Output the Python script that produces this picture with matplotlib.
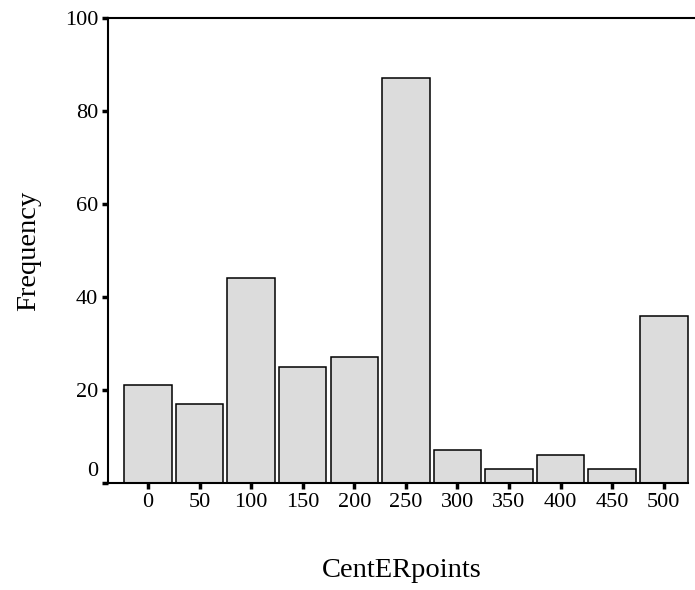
import matplotlib

matplotlib.use("Agg")
import matplotlib.pyplot as plt
from matplotlib.transforms import ScaledTranslation

# CentERpoints histogram (bin labels and counts)
bin_labels = ["0", "50", "100", "150", "200", "250", "300", "350", "400", "450", "500"]
frequencies = [21, 17, 44, 25, 27, 87, 7, 3, 6, 3, 36]
y_ticks = [0, 20, 40, 60, 80, 100]

plt.rcParams["font.family"] = ["Liberation Serif", "DejaVu Serif"]

fig = plt.figure(figsize=(6.95, 5.9), dpi=100, facecolor="white")
ax = fig.add_axes([108 / 695, 1 - 483 / 590, 587 / 695, 465 / 590])

positions = list(range(len(bin_labels)))
ax.bar(positions, frequencies, width=0.92, color="#dcdcdc",
       edgecolor="black", linewidth=1.1)

ax.set_xlim(-0.775, 10.605)
ax.set_ylim(0, 100)
ax.set_xticks(positions)
ax.set_xticklabels(bin_labels)
ax.set_yticks(y_ticks)

ax.spines["right"].set_visible(False)
for side in ("left", "bottom", "top"):
    ax.spines[side].set_linewidth(1.5)
# top rule runs to the edge, bottom axis stops at the last bar
ax.spines["bottom"].set_bounds(-0.775, 10.47)

ax.tick_params(axis="both", direction="out", length=4, width=2.5,
               labelsize=16, pad=3)

# SPSS style: the 0 label sits a bit above its tick
zero_label = ax.get_yticklabels()[0]
zero_label.set_transform(zero_label.get_transform()
                         + ScaledTranslation(0, 0.14, fig.dpi_scale_trans))

ax.set_xlabel("CentERpoints", fontsize=20.5, labelpad=33)
ax.set_ylabel("Frequency", fontsize=20.5, labelpad=17)

fig.savefig("out.png", dpi=100, facecolor="white")
plt.close(fig)
